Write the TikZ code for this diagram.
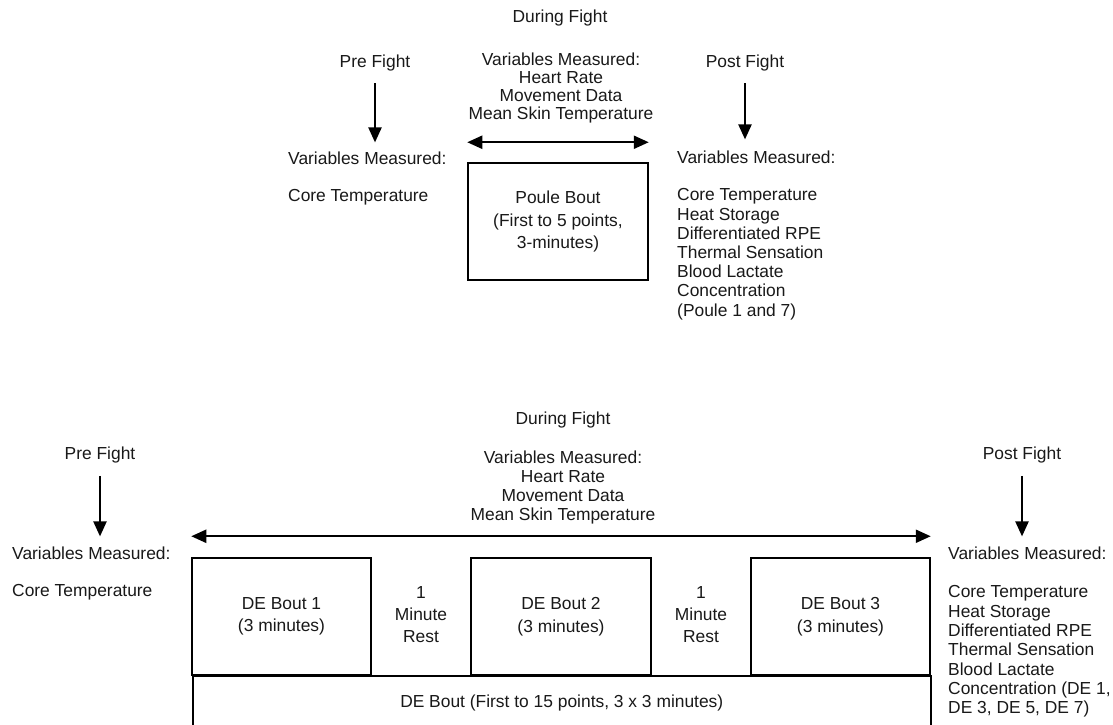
\documentclass[tikz,border=0pt]{standalone}
\usepackage{fontspec}
\setmainfont{Liberation Sans}
\usetikzlibrary{arrows.meta}
\begin{document}
\begin{tikzpicture}[x=1pt,y=-1pt,
  txt/.style={font=\fontsize{17.4}{19.2}\selectfont, inner sep=0pt, text=black!90},
  lst/.style={txt, align=left, anchor=north west},
  ctr/.style={txt, align=center},
  bx/.style={draw, line width=1.5pt, inner sep=0pt, align=center, text=black!90, font=\fontsize{17.4}{22.5}\selectfont},
  arr/.style={line width=2.2pt, -{Triangle[length=15pt,width=13pt]}},
  darr/.style={line width=2.2pt, {Triangle[length=15pt,width=13pt]}-{Triangle[length=15pt,width=13pt]}}]
\useasboundingbox (0,0) rectangle (1113,724);
\clip (0,0) rectangle (1113,724);
\fill[white] (0,0) rectangle (1113,724);

% ---------- Top: Poule ----------
\node[ctr] (durT) at (560,18) {During Fight};
\node[ctr, font=\fontsize{17.4}{18.3}\selectfont] (varT) at (561,88) {Variables Measured:\\Heart Rate\\Movement Data\\Mean Skin Temperature};
\node[ctr] (preT) at (375,62.5) {Pre Fight};
\node[txt, anchor=west] (vmLT) at (288,158) {Variables Measured:};
\node[txt, anchor=west] (coreLT) at (288,197) {Core Temperature};
\node[bx, minimum width=180, minimum height=117] (poule) at (558,221.5) {Poule Bout\\(First to 5 points,\\3-minutes)};
\node[ctr] (postT) at (745,62.5) {Post Fight};
\node[txt, anchor=west] (vmRT) at (677,157) {Variables Measured:};
\node[lst] (listT) at (677,188.5) {Core Temperature\\Heat Storage\\Differentiated RPE\\Thermal Sensation\\Blood Lactate\\Concentration\\(Poule 1 and 7)};

\draw[arr, shorten <=12.5pt, shorten >=9pt] (preT.south) -- (preT.south |- vmLT.north);
\draw[arr, shorten <=12.5pt, shorten >=11pt] (postT.south) -- (postT.south |- vmRT.north);
\draw[darr] ([yshift=20pt]poule.north west) -- ([yshift=20pt]poule.north east);

% ---------- Bottom: DE ----------
\node[ctr] (durB) at (563,420) {During Fight};
\node[ctr] (varB) at (563,487.5) {Variables Measured:\\Heart Rate\\Movement Data\\Mean Skin Temperature};
\node[ctr] (preB) at (100,454.5) {Pre Fight};
\node[txt, anchor=west] (vmLB) at (12,553) {Variables Measured:};
\node[txt, anchor=west] (coreLB) at (12,592) {Core Temperature};

\node[bx, minimum width=179, minimum height=117] (b1) at (281.5,616.5) {DE Bout 1\\(3 minutes)};
\node[ctr, font=\fontsize{17.4}{22}\selectfont] (r1) at (421,615) {1\\Minute\\Rest};
\node[bx, minimum width=180, minimum height=117] (b2) at (561,616.5) {DE Bout 2\\(3 minutes)};
\node[ctr, font=\fontsize{17.4}{22}\selectfont] (r2) at (701,615) {1\\Minute\\Rest};
\node[bx, minimum width=179, minimum height=117] (b3) at (840.5,616.5) {DE Bout 3\\(3 minutes)};
\node[bx, minimum width=738, minimum height=54, anchor=north west] (deAll) at (192,675) {DE Bout (First to 15 points, 3 x 3 minutes)};

\node[ctr] (postB) at (1022,454.5) {Post Fight};
\node[txt, anchor=west] (vmRB) at (948,553) {Variables Measured:};
\node[lst, font=\fontsize{17.4}{19.33}\selectfont] (listB) at (948,585.5) {Core Temperature\\Heat Storage\\Differentiated RPE\\Thermal Sensation\\Blood Lactate\\Concentration (DE 1,\\DE 3, DE 5, DE 7)};

\draw[arr, shorten <=13pt, shorten >=10pt] (preB.south) -- (preB.south |- vmLB.north);
\draw[arr, shorten <=13pt, shorten >=10pt] (postB.south) -- (postB.south |- vmRB.north);
\draw[darr] ([yshift=21pt]b1.north west) -- ([yshift=21pt]b3.north east);
\end{tikzpicture}
\end{document}
